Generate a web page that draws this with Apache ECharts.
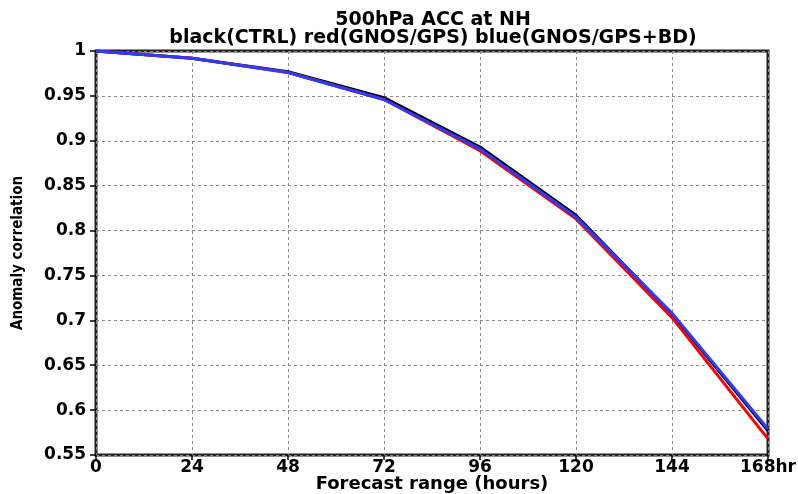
<!DOCTYPE html>
<html>
<head>
<meta charset="utf-8">
<script src="https://cdn.jsdelivr.net/npm/echarts@6/dist/echarts.min.js"></script>
<style>
	html, body {margin: 0; padding: 0; background: #fff;}
	#chart {width: 798px; height: 494px;}
</style>
</head>
<body>
<div id="chart"></div>
<script>
// forecast hours and ACC values
var hours = [0, 24, 48, 72, 96, 120, 144, 168];
var ctrl = [1.0, 0.992, 0.977, 0.948, 0.893, 0.817, 0.707, 0.577];
var gps = [1.0, 0.992, 0.976, 0.946, 0.889, 0.813, 0.703, 0.568];
var gpsbd = [1.0, 0.992, 0.976, 0.946, 0.891, 0.815, 0.708, 0.579];

function pairs(vals){
	var out = new Array();
	for (var i=0; i<hours.length; i++){
		out.push([hours[i], vals[i]]);
	}
	return out;
}

var font = 'DejaVu Sans';
var chart = echarts.init(document.getElementById('chart'), null, {renderer: 'canvas'});
var option = {
	animation: false,
	backgroundColor: '#fff',
	title: {
		text: '500hPa ACC at NH\nblack(CTRL) red(GNOS/GPS) blue(GNOS/GPS+BD)',
		left: 428,
		textAlign: 'center',
		top: 6,
		textStyle: {fontFamily: font, fontSize: 19, fontWeight: 'bold', color: '#000', lineHeight: 18}
	},
	grid: {
		left: 96, right: 30, top: 51, bottom: 39,
		outerBoundsMode: 'none',
		show: true, borderColor: '#222', borderWidth: 3
	},
	xAxis: {
		type: 'value',
		min: 0, max: 168, interval: 24,
		name: 'Forecast range (hours)',
		nameLocation: 'middle',
		nameMoveOverlap: false,
		nameGap: 20,
		nameTextStyle: {fontFamily: font, fontSize: 18, fontWeight: 'bold', color: '#000', lineHeight: 18},
		axisLine: {show: false},
		axisTick: {show: true, length: 5, lineStyle: {color: '#000', width: 1.5}},
		axisLabel: {
			fontFamily: font, fontSize: 17, fontWeight: 'bold', color: '#000', margin: 4, lineHeight: 17,
			formatter: function(v){ return v == 168 ? '168hr' : '' + v; }
		},
		splitLine: {show: true, lineStyle: {color: '#888', type: [3, 3], width: 1}}
	},
	yAxis: {
		type: 'value',
		min: 0.55, max: 1, interval: 0.05,
		name: 'Anomaly correlation',
		nameLocation: 'middle',
		nameMoveOverlap: false,
		nameGap: 70,
		nameTextStyle: {fontFamily: 'DejaVu Sans Condensed', fontSize: 15, fontWeight: 'bold', color: '#000'},
		axisLine: {show: false},
		axisTick: {show: true, length: 6, lineStyle: {color: '#000', width: 1.5}},
		axisLabel: {
			fontFamily: font, fontSize: 17, fontWeight: 'bold', color: '#000', margin: 10,
			formatter: function(v){ return '' + parseFloat(v.toFixed(2)); }
		},
		splitLine: {show: true, lineStyle: {color: '#888', type: [3, 3], width: 1}}
	},
	series: [{
		type: 'line', name: 'CTRL', data: pairs(ctrl),
		symbol: 'none', lineStyle: {color: '#000', width: 3}, z: 2
	},
	{
		type: 'line', name: 'GNOS/GPS', data: pairs(gps),
		symbol: 'none', lineStyle: {color: '#f00', width: 3}, z: 3
	},
	{
		type: 'line', name: 'GNOS/GPS+BD', data: pairs(gpsbd),
		symbol: 'none', lineStyle: {color: '#2a3cff', width: 3}, z: 4
	}]
};
chart.setOption(option);
</script>
</body>
</html>
